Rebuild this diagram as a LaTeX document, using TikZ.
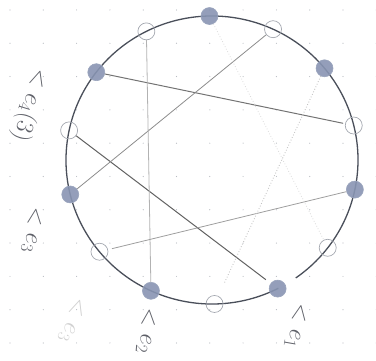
\documentclass[tikz,border=0pt]{standalone}
\usetikzlibrary{calc}
\definecolor{penline}{HTML}{4A4F5A}
\definecolor{dotblue}{HTML}{8894B2}
\definecolor{dotedge}{HTML}{9AA4BD}
\definecolor{opengray}{HTML}{A4A8B0}
\definecolor{gridgray}{HTML}{B8BCC2}
\definecolor{labgray}{HTML}{5E6068}
\begin{document}
\begin{tikzpicture}[x=1pt,y=1pt,
  filledv/.style={circle,minimum size=17pt,inner sep=0pt,fill=dotblue,draw=dotedge,line width=0.6pt,fill opacity=0.9},
  openv/.style={circle,minimum size=17pt,inner sep=0pt,draw=opengray,line width=0.7pt},
  chord/.style={line width=0.8pt},
  lab/.style={text=labgray,font=\fontsize{25}{25}\selectfont,inner sep=0pt}]
\useasboundingbox (0,0) rectangle (376,-361);
% paper dot grid
\foreach \i in {0,...,11}{
  \foreach \j in {0,...,10}{
    \fill[gridgray] ({10+33.3*\i},{-10-33.3*\j}) circle (0.6pt);
  }
}
\coordinate (c) at (212,-160);
% circle with a small gap at the lower right
\draw[penline,line width=1.3pt] ($(c)+(-55:146 and 144)$) arc[start angle=-55,end angle=297,x radius=146,y radius=144];
% vertices: even = filled, odd = open
\foreach \k in {0,...,13}{
  \pgfmathsetmacro{\ang}{91-\k*360/14}
  \pgfmathtruncatemacro{\vpar}{mod(\k,2)}
  \ifnum\vpar=0
    \node[filledv] (v\k) at ($(c)+(\ang:146 and 144)$) {};
  \else
    \node[openv] (v\k) at ($(c)+(\ang:146 and 144)$) {};
  \fi
}
% chords
\draw[chord,draw=black!55,line width=1pt,shorten >=2pt] (v12) -- (v3);
\draw[chord,draw=black!62,line width=1pt,shorten >=6pt] (v11) -- (v6);
\draw[chord,draw=black!45] (v1) -- (v10);
\draw[chord,draw=black!30] (v13) -- (v8);
\draw[chord,draw=black!38,shorten >=4pt] (v4) -- (v9);
\draw[chord,draw=black!24,dotted,line width=0.9pt,shorten >=14pt] (v2) -- (v7);
\draw[chord,draw=black!14,dotted,line width=0.8pt] (v0) -- (v5);
% labels
\node[lab,rotate=-100] (l1) at (296,-326) {$<e_1$};
\node[lab,rotate=-95] (l2) at (146,-331) {$<e_2$};
\node[lab,rotate=-108,text=black!18] (l3) at (72,-320) {$<e_3$};
\node[lab,rotate=-97] (l4) at (32,-230) {$<e_3$};
\node[lab,rotate=-107] (l5) at (30,-105) {$<e_4(3)$};
\end{tikzpicture}
\end{document}
